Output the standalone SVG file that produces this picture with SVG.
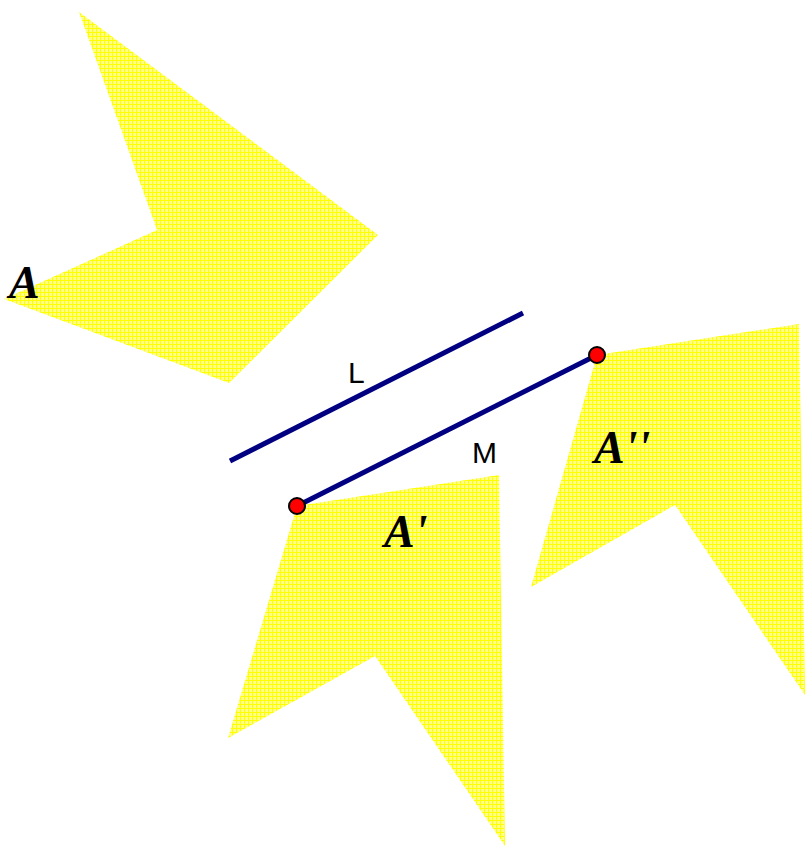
<svg xmlns="http://www.w3.org/2000/svg" width="805" height="846" viewBox="0 0 805 846">
<style>
.shape{fill:url(#grid);stroke:none}
.seg{stroke:#000080;stroke-width:5;fill:none;stroke-linecap:butt}
.pt{fill:#ff0000;stroke:#000;stroke-width:2}
.big{font-family:"Liberation Serif",serif;font-weight:bold;font-style:italic;font-size:46px;fill:#000}
.lbl{font-family:"Liberation Sans",Arial,sans-serif;font-size:30px;fill:#000}
</style>
<defs>
<pattern id="grid" width="4" height="4" patternUnits="userSpaceOnUse">
<rect width="4" height="4" fill="#ffff88"/>
<path d="M0 0.5H4M0.5 0V4" stroke="#ffff00" stroke-width="1"/>
</pattern>
</defs>
<rect width="805" height="846" fill="#fff"/>
<g id="shapeA"><polygon class="shape" points="79,12 378,235 229,383 4,299 157,230"/></g>
<g id="shapeA1"><polygon class="shape" points="297,506 499,475 505,846 375,656 228,738"/></g>
<g id="shapeA2"><polygon class="shape" points="597,355 799,324 805,695 675,505 531,587"/></g>
<g id="connectors">
<line id="L" class="seg" x1="230" y1="461" x2="523" y2="313"/>
<line id="M" class="seg" x1="297" y1="506" x2="597" y2="355"/>
</g>
<g id="points">
<circle class="pt" cx="297" cy="506" r="8"/>
<circle class="pt" cx="597" cy="355" r="8"/>
</g>
<g id="labels">
<text class="big" x="9" y="298">A</text>
<text class="big" x="384" y="547">A'</text>
<text class="big" x="594" y="463">A''</text>
<text class="lbl" x="348" y="383">L</text>
<text class="lbl" x="472" y="463">M</text>
</g>
</svg>
